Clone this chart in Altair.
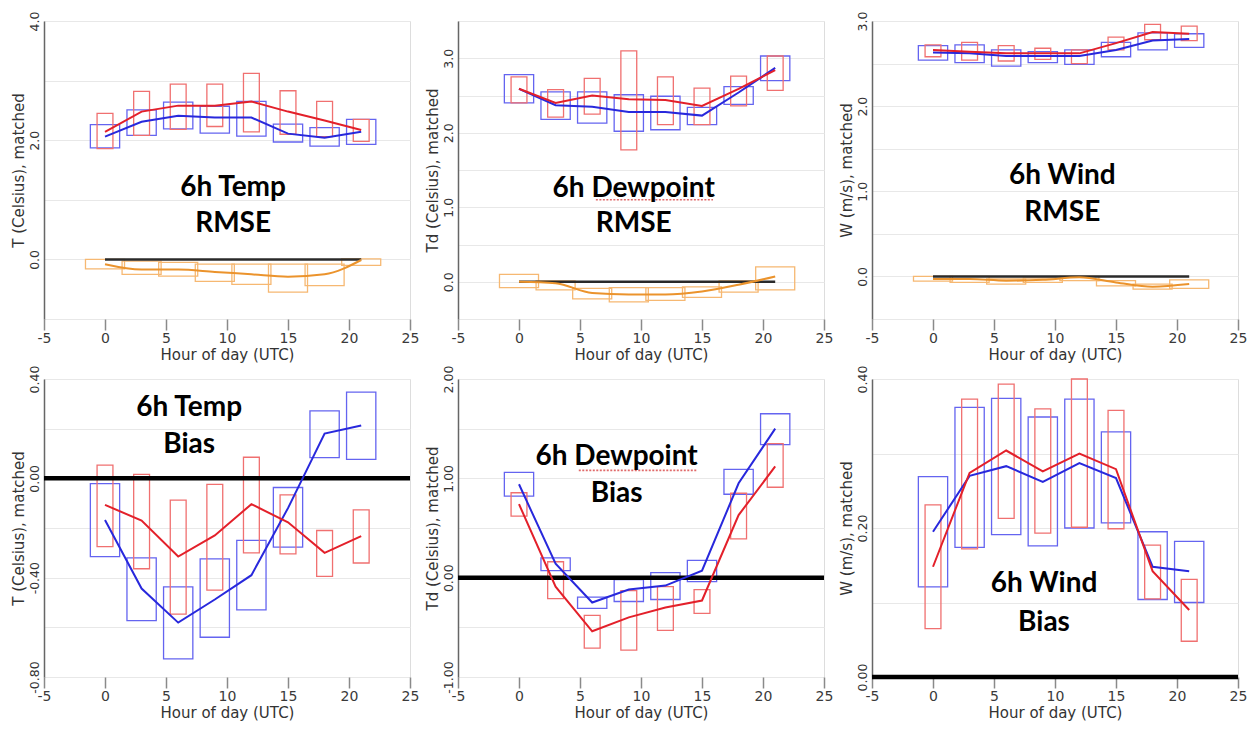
import altair as alt
import numpy as np
import pandas as pd

HOURS = [0, 3, 6, 9, 12, 15, 18, 21]

# ---- 6h Temp RMSE ----
TR_RED = [2.14, 2.48, 2.58, 2.58, 2.65, 2.48, 2.33, 2.17]
TR_RED_HI = [2.45, 2.82, 2.94, 2.94, 3.12, 2.83, 2.65, 2.35]
TR_RED_LO = [1.86, 2.08, 2.18, 2.23, 2.14, 2.10, 2.06, 1.98]
TR_BLUE = [2.06, 2.31, 2.41, 2.38, 2.38, 2.11, 2.04, 2.14]
TR_BLUE_HI = [2.26, 2.51, 2.64, 2.57, 2.65, 2.27, 2.21, 2.35]
TR_BLUE_LO = [1.87, 2.08, 2.19, 2.12, 2.07, 1.97, 1.90, 1.93]
TR_DIFF = [-0.08, -0.17, -0.17, -0.21, -0.25, -0.29, -0.25, -0.01]
TR_DIFF_HI = [0.0, -0.03, -0.05, -0.08, -0.08, -0.08, -0.08, 0.01]
TR_DIFF_LO = [-0.16, -0.25, -0.28, -0.37, -0.42, -0.55, -0.44, -0.10]

# ---- 6h Dewpoint RMSE ----
DR_RED = [2.59, 2.40, 2.50, 2.45, 2.44, 2.36, 2.59, 2.84]
DR_RED_HI = [2.75, 2.58, 2.73, 3.10, 2.75, 2.60, 2.76, 3.03]
DR_RED_LO = [2.40, 2.21, 2.25, 1.77, 2.11, 2.11, 2.36, 2.57]
DR_BLUE = [2.59, 2.37, 2.35, 2.28, 2.28, 2.23, 2.54, 2.87]
DR_BLUE_HI = [2.78, 2.55, 2.55, 2.51, 2.49, 2.34, 2.62, 3.03]
DR_BLUE_LO = [2.40, 2.18, 2.13, 2.02, 2.04, 2.11, 2.38, 2.70]
DR_DIFF = [0.0, -0.02, -0.15, -0.17, -0.17, -0.13, -0.04, 0.07]
DR_DIFF_HI = [0.10, 0.01, -0.09, -0.08, -0.08, -0.07, 0.01, 0.20]
DR_DIFF_LO = [-0.08, -0.11, -0.23, -0.27, -0.25, -0.21, -0.14, -0.11]

# ---- 6h Wind RMSE ----
WR_RED = [2.66, 2.64, 2.62, 2.62, 2.62, 2.74, 2.87, 2.85]
WR_RED_HI = [2.72, 2.75, 2.71, 2.68, 2.66, 2.81, 2.96, 2.94]
WR_RED_LO = [2.58, 2.54, 2.53, 2.55, 2.50, 2.66, 2.78, 2.77]
WR_BLUE = [2.63, 2.62, 2.59, 2.59, 2.59, 2.66, 2.77, 2.79]
WR_BLUE_HI = [2.71, 2.72, 2.66, 2.64, 2.66, 2.75, 2.86, 2.85]
WR_BLUE_LO = [2.54, 2.51, 2.47, 2.51, 2.49, 2.58, 2.66, 2.69]
WR_DIFF = [-0.03, -0.03, -0.05, -0.04, -0.01, -0.07, -0.12, -0.09]
WR_DIFF_HI = [0.0, 0.0, -0.03, -0.02, 0.0, -0.05, -0.09, -0.04]
WR_DIFF_LO = [-0.055, -0.07, -0.09, -0.07, -0.05, -0.11, -0.15, -0.14]

# ---- 6h Temp Bias ----
TB_RED = [-0.107, -0.17, -0.315, -0.23, -0.104, -0.177, -0.30, -0.233]
TB_RED_HI = [0.053, 0.016, -0.088, -0.024, 0.085, -0.067, -0.21, -0.127]
TB_RED_LO = [-0.275, -0.364, -0.547, -0.45, -0.30, -0.304, -0.395, -0.341]
TB_BLUE = [-0.168, -0.444, -0.581, -0.488, -0.39, -0.12, 0.18, 0.213]
TB_BLUE_HI = [-0.021, -0.32, -0.437, -0.324, -0.25, -0.037, 0.272, 0.347]
TB_BLUE_LO = [-0.315, -0.573, -0.727, -0.64, -0.53, -0.277, 0.083, 0.076]

# ---- 6h Dewpoint Bias ----
DB_RED = [0.74, -0.09, -0.54, -0.40, -0.30, -0.23, 0.63, 1.12]
DB_RED_HI = [0.855, 0.16, -0.38, -0.13, -0.09, -0.12, 0.85, 1.35]
DB_RED_LO = [0.62, -0.21, -0.71, -0.73, -0.53, -0.36, 0.39, 0.91]
DB_BLUE = [0.94, 0.14, -0.25, -0.12, -0.08, 0.07, 0.95, 1.50]
DB_BLUE_HI = [1.06, 0.20, -0.195, -0.02, 0.05, 0.175, 1.09, 1.65]
DB_BLUE_LO = [0.82, 0.07, -0.31, -0.24, -0.22, -0.04, 0.84, 1.34]

# ---- 6h Wind Bias ----
WB_RED = [0.148, 0.274, 0.304, 0.276, 0.30, 0.279, 0.142, 0.09]
WB_RED_HI = [0.231, 0.373, 0.393, 0.36, 0.40, 0.358, 0.177, 0.131]
WB_RED_LO = [0.065, 0.172, 0.213, 0.193, 0.201, 0.199, 0.105, 0.048]
WB_BLUE = [0.195, 0.27, 0.283, 0.262, 0.287, 0.267, 0.148, 0.142]
WB_BLUE_HI = [0.269, 0.362, 0.374, 0.349, 0.373, 0.329, 0.195, 0.182]
WB_BLUE_LO = [0.121, 0.174, 0.191, 0.176, 0.20, 0.207, 0.104, 0.10]

X_TICKS = [-5, 0, 5, 10, 15, 20, 25]
X_TITLE = "Hour of day (UTC)"
ZERO_SPAN = [0, 21]

# panel annotation texts (two lines each) and their data positions
LABEL_TEXT = [["6h Temp", "RMSE"], ["6h Dewpoint", "RMSE"], ["6h Wind", "RMSE"],
              ["6h Temp", "Bias"], ["6h Dewpoint", "Bias"], ["6h Wind", "Bias"]]
LABEL_X = [10.5, 9.4, 10.6, 6.9, 8.0, 9.1]
LABEL_Y = [[1.2, 0.59], [1.25, 0.77], [1.18, 0.74], [0.283, 0.136], [1.21, 0.84], [0.1245, 0.073]]
# spell-check underline under "Dewpoint" (panel index -> [x start, x end, y])
UNDERLINE = {1: [6.3, 15.9, 1.1], 4: [4.9, 14.6, 1.08]}

# styling
STYLE = {
    "red": dict(line="#e3202a", box="#f07070", hw=0.65),
    "blue": dict(line="#2828dc", box="#6464f0", hw=1.2),
    "diff": dict(line="#eb932c", box="#f6b872", hw=1.6),
}
FONT = "DejaVu Sans"
W, H = 366, 298


def make_df(mean, lo, hi, hw):
    return pd.DataFrame({
        "hour": HOURS, "mean": mean, "lo": lo, "hi": hi,
        "x0": [h - hw for h in HOURS], "x1": [h + hw for h in HOURS],
    })


def panel(idx, ytitle, ydom, grid_step, label_step, fmt, series, zero_kind):
    grid_vals = [round(v, 4) for v in np.arange(ydom[0], ydom[1] + grid_step / 2, grid_step)]
    label_expr = (
        f"abs(datum.value/{label_step} - round(datum.value/{label_step})) < 0.001 ? "
        f"replace(format(datum.value, '{fmt}'), '\u2212', '-') : ''"
    )
    yaxis = alt.Axis(values=grid_vals, labelExpr=label_expr, grid=True, gridColor="#e8e8e8",
                     gridWidth=1, ticks=False, domain=True, domainColor="#666666", domainWidth=1.5,
                     labelAngle=270, labelFontSize=12.5, labelColor="#333333", labelFont=FONT,
                     labelPadding=3, title=ytitle, titleFontSize=15, titleFont=FONT,
                     titleFontWeight="normal", titleColor="#333333", titlePadding=2)
    xaxis = alt.Axis(values=X_TICKS, grid=False, domain=False, ticks=True, tickSize=11,
                     tickColor="#8a8a8a", tickWidth=1.5, labelFontSize=14, labelColor="#3a3a3a",
                     labelFont=FONT, labelPadding=1,
                     labelExpr="replace(format(datum.value, 'd'), '\u2212', '-')",
                     title=X_TITLE, titleFontSize=15,
                     titleFont=FONT, titleFontWeight="normal", titleColor="#333333",
                     titlePadding=2, labelFlush=False)
    xs = alt.Scale(domain=[-5, 25], nice=False, zero=False)
    ys = alt.Scale(domain=ydom, nice=False, zero=False)

    layers = []
    for key, (mean, lo, hi) in series:
        st = STYLE[key]
        df = make_df(mean, lo, hi, st["hw"])
        layers.append(
            alt.Chart(df).mark_rect(fillOpacity=0, stroke=st["box"], strokeWidth=1.3).encode(
                x=alt.X("x0:Q", scale=xs, axis=xaxis), x2="x1:Q",
                y=alt.Y("lo:Q", scale=ys, axis=yaxis), y2="hi:Q")
        )
    if zero_kind == "short":
        zdf = pd.DataFrame({"a": [ZERO_SPAN[0]], "b": [ZERO_SPAN[1]], "z": [0]})
        layers.append(alt.Chart(zdf).mark_rule(color="#2a2a2a", strokeWidth=2.5).encode(
            x=alt.X("a:Q", scale=xs, axis=xaxis), x2="b:Q",
            y=alt.Y("z:Q", scale=ys, axis=yaxis)))
    else:
        zdf = pd.DataFrame({"z": [0]})
        layers.append(alt.Chart(zdf).mark_rule(color="black", strokeWidth=4.5).encode(
            y=alt.Y("z:Q", scale=ys, axis=yaxis)))
    for key, (mean, lo, hi) in series:
        st = STYLE[key]
        df = make_df(mean, lo, hi, st["hw"])
        layers.append(
            alt.Chart(df).mark_line(color=st["line"], strokeWidth=2,
                                    interpolate="monotone" if key == "diff" else "linear").encode(
                x=alt.X("hour:Q", scale=xs, axis=xaxis),
                y=alt.Y("mean:Q", scale=ys, axis=yaxis))
        )
    if idx in UNDERLINE:
        u = UNDERLINE[idx]
        udf = pd.DataFrame({"a": [u[0]], "b": [u[1]], "y": [u[2]]})
        layers.append(alt.Chart(udf).mark_rule(color="#e06a6a", strokeWidth=1.6,
                                               strokeDash=[2, 1.5]).encode(
            x=alt.X("a:Q", scale=xs, axis=xaxis), x2="b:Q",
            y=alt.Y("y:Q", scale=ys, axis=yaxis)))
    tdf = pd.DataFrame({"x": [LABEL_X[idx]] * 2, "y": LABEL_Y[idx], "t": LABEL_TEXT[idx]})
    layers.append(alt.Chart(tdf).mark_text(font="Lato", fontWeight="bold", fontSize=28,
                                            color="black").encode(
        x=alt.X("x:Q", scale=xs, axis=xaxis), y=alt.Y("y:Q", scale=ys, axis=yaxis), text="t:N"))

    return alt.layer(*layers).properties(width=W, height=H)


p1 = panel(0, "T (Celsius), matched", [-1.0, 4.0], 1.0, 2.0, ".1f",
           [("diff", (TR_DIFF, TR_DIFF_LO, TR_DIFF_HI)), ("blue", (TR_BLUE, TR_BLUE_LO, TR_BLUE_HI)),
            ("red", (TR_RED, TR_RED_LO, TR_RED_HI))], "short")
p2 = panel(1, "Td (Celsius), matched", [-0.5, 3.5], 0.5, 1.0, ".1f",
           [("diff", (DR_DIFF, DR_DIFF_LO, DR_DIFF_HI)), ("blue", (DR_BLUE, DR_BLUE_LO, DR_BLUE_HI)),
            ("red", (DR_RED, DR_RED_LO, DR_RED_HI))], "short")
p3 = panel(2, "W (m/s), matched", [-0.5, 3.0], 0.5, 1.0, ".1f",
           [("diff", (WR_DIFF, WR_DIFF_LO, WR_DIFF_HI)), ("blue", (WR_BLUE, WR_BLUE_LO, WR_BLUE_HI)),
            ("red", (WR_RED, WR_RED_LO, WR_RED_HI))], "short")
p4 = panel(3, "T (Celsius), matched", [-0.8, 0.4], 0.2, 0.4, ".2f",
           [("blue", (TB_BLUE, TB_BLUE_LO, TB_BLUE_HI)), ("red", (TB_RED, TB_RED_LO, TB_RED_HI))],
           "full")
p5 = panel(4, "Td (Celsius), matched", [-1.0, 2.0], 0.5, 1.0, ".2f",
           [("blue", (DB_BLUE, DB_BLUE_LO, DB_BLUE_HI)), ("red", (DB_RED, DB_RED_LO, DB_RED_HI))],
           "full")
p6 = panel(5, "W (m/s), matched", [0.0, 0.4], 0.1, 0.2, ".2f",
           [("blue", (WB_BLUE, WB_BLUE_LO, WB_BLUE_HI)), ("red", (WB_RED, WB_RED_LO, WB_RED_HI))],
           "full")

chart = alt.concat(p1, p2, p3, p4, p5, p6, columns=3,
                   spacing={"row": 60, "column": 48}, bounds="flush").properties(
    padding={"left": 2, "top": 2, "right": 0, "bottom": 0}
).configure_view(strokeWidth=0).configure(background="white")

chart.save("out.html", embed_options={"renderer": "svg", "actions": False})
